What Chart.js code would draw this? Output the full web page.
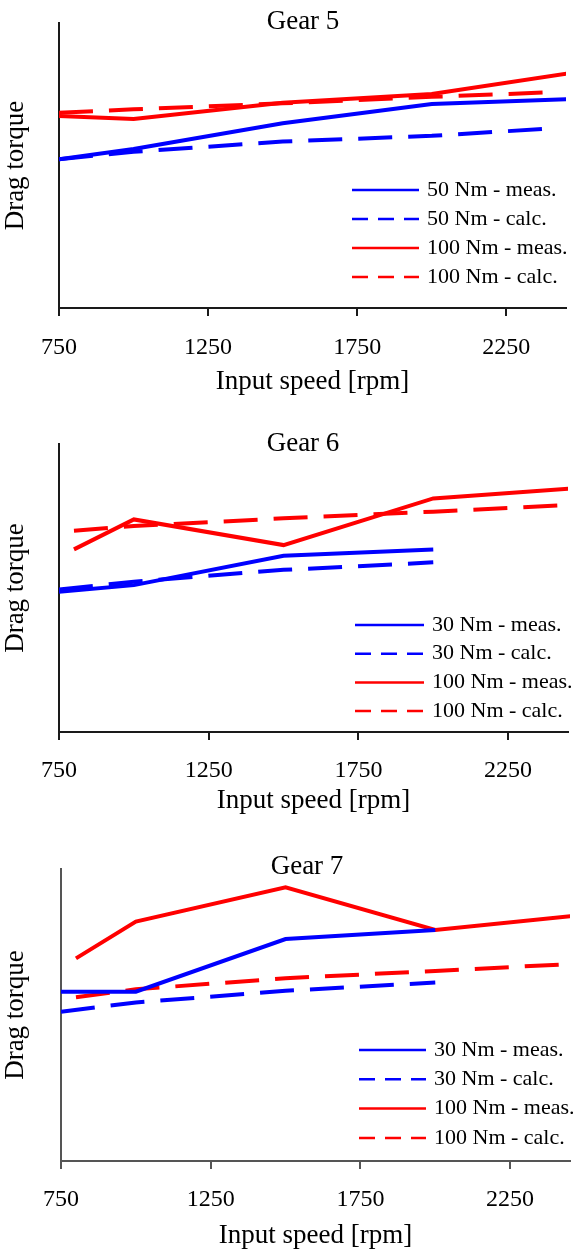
<!DOCTYPE html>
<html><head><meta charset="utf-8">
<script src="https://cdn.jsdelivr.net/npm/chart.js@4.4.1/dist/chart.umd.min.js"></script>
<style>
html,body{margin:0;padding:0;background:#fff;}
body{width:573px;height:1252px;position:relative;overflow:hidden;}
.box{position:absolute;left:0;width:573px;}
canvas{display:block;}
</style></head><body>
<div class="box" style="top:0;height:410px"><canvas id="c5" width="573" height="410" style="width:573px;height:410px"></canvas></div>
<div class="box" style="top:420px;height:410px"><canvas id="c6" width="573" height="410" style="width:573px;height:410px"></canvas></div>
<div class="box" style="top:840px;height:412px"><canvas id="c7" width="573" height="412" style="width:573px;height:412px"></canvas></div>
<script>
// ---- data ----
const gearTitles = ['Gear 5', 'Gear 6', 'Gear 7'];
const xAxisTitle = 'Input speed [rpm]';
const yAxisTitle = 'Drag torque';
const tickValues = [750, 1250, 1750, 2250];

// Gear 5
const g5Labels = ['50 Nm - meas.', '50 Nm - calc.', '100 Nm - meas.', '100 Nm - calc.'];
const g5RpmMeas = [750, 1000, 1500, 2000, 2500];
const g5RpmCalc = [750, 1000, 1500, 2000, 2400];
const g5Meas50 = [52.2, 55.8, 64.8, 71.6, 73.4];
const g5Calc50 = [52.2, 54.8, 58.4, 60.4, 63.0];
const g5Meas100 = [67.4, 66.3, 72.0, 75.1, 83.0];
const g5Calc100 = [68.5, 69.7, 71.8, 74.1, 75.7];

// Gear 6
const g6Labels = ['30 Nm - meas.', '30 Nm - calc.', '100 Nm - meas.', '100 Nm - calc.'];
const g6Rpm30 = [750, 1000, 1500, 2000];
const g6Rpm100 = [800, 1000, 1500, 2000, 2500];
const g6Meas30 = [48.7, 51.0, 61.2, 63.4];
const g6Calc30 = [49.5, 52.2, 56.3, 58.9];
const g6Meas100 = [63.4, 73.8, 64.9, 81.1, 84.8];
const g6Calc100 = [69.9, 71.5, 74.2, 76.5, 79.1];

// Gear 7
const g7Labels = ['30 Nm - meas.', '30 Nm - calc.', '100 Nm - meas.', '100 Nm - calc.'];
const g7Rpm30 = [750, 1000, 1500, 2000];
const g7Rpm100 = [800, 1000, 1500, 2000, 2500];
const g7Meas30 = [58.0, 58.0, 76.0, 79.1];
const g7Calc30 = [51.1, 54.3, 58.3, 61.1];
const g7Meas100 = [69.4, 82.0, 93.7, 79.1, 84.3];
const g7Calc100 = [56.1, 58.8, 62.6, 65.1, 67.7];

// ---- rendering ----
const FONT = "'Liberation Serif', 'Times New Roman', serif";
const BLUE = '#0000ff', RED = '#ff0000';

const overlay = {
  id: 'overlay',
  afterDraw(chart, args, o) {
    const ctx = chart.ctx;
    ctx.save();
    ctx.fillStyle = '#000';
    ctx.font = '27px ' + FONT;
    ctx.textAlign = 'center';
    ctx.textBaseline = 'middle';
    ctx.fillText(o.title, o.titleX, o.titleY);
    ctx.font = '22px ' + FONT;
    ctx.textAlign = 'left';
    chart.data.datasets.forEach((ds, i) => {
      const y = o.legendY + i * o.legendGap;
      ctx.beginPath();
      ctx.setLineDash(ds.borderDash && ds.borderDash.length ? [16, 10] : []);
      ctx.strokeStyle = ds.borderColor;
      ctx.lineWidth = 2.5;
      ctx.moveTo(o.lx1, y);
      ctx.lineTo(o.lx2, y);
      ctx.stroke();
      ctx.setLineDash([]);
      ctx.fillText(ds.label, o.tx, y);
    });
    ctx.restore();
  }
};

function series(label, xs, ys, color, dashed) {
  return {
    label,
    data: xs.map((x, i) => ({x, y: ys[i]})),
    borderColor: color,
    backgroundColor: color,
    borderDash: dashed ? [34, 16] : [],
    borderWidth: 4,
    pointRadius: 0,
    tension: 0,
    fill: false
  };
}

function makeChart(id, cfg) {
  new Chart(document.getElementById(id), {
    type: 'line',
    data: {datasets: cfg.datasets},
    options: {
      responsive: false,
      animation: false,
      devicePixelRatio: 1,
      layout: {padding: {top: cfg.top, right: cfg.right, left: 0, bottom: 0}},
      plugins: {
        legend: {display: false},
        tooltip: {enabled: false},
        overlay: cfg.overlay
      },
      scales: {
        x: {
          type: 'linear', min: 750, max: 2450,
          afterFit: s => { s.height = cfg.xHeight; },
          afterBuildTicks: s => { s.ticks = tickValues.map(v => ({value: v})); },
          grid: {drawOnChartArea: false, drawTicks: true, tickLength: 8, tickColor: cfg.axisColor, lineWidth: 2},
          border: {display: true, color: cfg.axisColor, width: 2},
          ticks: {font: {family: FONT, size: 24}, color: '#000', padding: cfg.tickPad, maxRotation: 0, autoSkip: false,
                  callback: v => String(v)},
          title: {display: true, text: xAxisTitle, font: {family: FONT, size: 27}, color: '#000',
                  padding: {top: 0, bottom: cfg.xTitlePad}}
        },
        y: {
          min: 0, max: 100,
          afterFit: s => { s.width = cfg.yWidth; },
          grid: {display: false},
          border: {display: true, color: cfg.axisColor, width: 2},
          ticks: {display: false},
          title: {display: true, text: yAxisTitle, font: {family: FONT, size: 27}, color: '#000',
                  padding: {top: 0, bottom: 0}}
        }
      }
    },
    plugins: [overlay]
  });
}

makeChart('c5', {
  datasets: [
    series(g5Labels[0], g5RpmMeas, g5Meas50, BLUE, false),
    series(g5Labels[1], g5RpmCalc, g5Calc50, BLUE, true),
    series(g5Labels[2], g5RpmMeas, g5Meas100, RED, false),
    series(g5Labels[3], g5RpmCalc, g5Calc100, RED, true)
  ],
  top: 23, right: 7, xHeight: 102, yWidth: 59, tickPad: 17.6, xTitlePad: 11.8, axisColor: '#1a1a1a',
  overlay: {title: gearTitles[0], titleX: 303, titleY: 21.5, legendY: 190, legendGap: 29, lx1: 352, lx2: 419, tx: 427}
});

makeChart('c6', {
  datasets: [
    series(g6Labels[0], g6Rpm30, g6Meas30, BLUE, false),
    series(g6Labels[1], g6Rpm30, g6Calc30, BLUE, true),
    series(g6Labels[2], g6Rpm100, g6Meas100, RED, false),
    series(g6Labels[3], g6Rpm100, g6Calc100, RED, true)
  ],
  top: 24, right: 5, xHeight: 98, yWidth: 59, tickPad: 16.6, xTitlePad: 12.8, axisColor: '#1a1a1a',
  overlay: {title: gearTitles[1], titleX: 303, titleY: 23.5, legendY: 205, legendGap: 28.7, lx1: 355, lx2: 424, tx: 432}
});

makeChart('c7', {
  datasets: [
    series(g7Labels[0], g7Rpm30, g7Meas30, BLUE, false),
    series(g7Labels[1], g7Rpm30, g7Calc30, BLUE, true),
    series(g7Labels[2], g7Rpm100, g7Meas100, RED, false),
    series(g7Labels[3], g7Rpm100, g7Calc100, RED, true)
  ],
  top: 29, right: 3, xHeight: 91, yWidth: 61, tickPad: 16.6, xTitlePad: 0, axisColor: '#555555',
  overlay: {title: gearTitles[2], titleX: 307, titleY: 27, legendY: 210, legendGap: 29.3, lx1: 359, lx2: 426, tx: 434}
});
</script>
</body></html>
